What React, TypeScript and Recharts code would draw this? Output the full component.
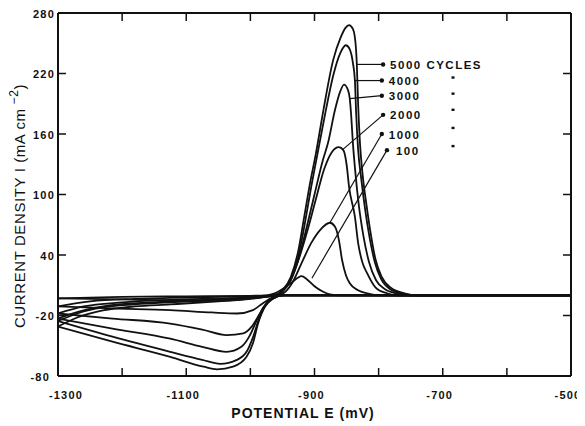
import React from 'react';
import { LineChart, Line, XAxis, YAxis, ReferenceLine, ReferenceDot, Label } from 'recharts';

const FONT = '"Liberation Sans", Arial, Helvetica, sans-serif';
const INK = '#111';

const xTicks = [-1300, -1200, -1100, -1000, -900, -800, -700, -600, -500];
const yTicks = [-80, -20, 40, 100, 160, 220, 280];

// anodic (forward) sweeps: [potential mV, current density mA cm-2]
const anodic5000: [number, number][] = [[-1300,-31],[-1270,-22],[-1230,-15],[-1180,-11],[-1125,-9],[-1050,-6],[-1000,-3.5],[-975,-1.5],[-962,0],[-950,5],[-937,18],[-925,45],[-916,78],[-907,111],[-898,140],[-886,184],[-871,233],[-859,256],[-852,265],[-846,268],[-840,264],[-836,250],[-834,229],[-832,190],[-829,150],[-825,120],[-819,90],[-812,60],[-805,36],[-795,18],[-780,7],[-760,2],[-740,0],[-500,0]];
const anodic4000: [number, number][] = [[-1300,-25.5],[-1270,-18],[-1230,-12],[-1180,-9],[-1125,-7],[-1050,-5],[-1000,-3],[-975,-1.2],[-962,0],[-950,4],[-937,16],[-924,42],[-914,75],[-905,108],[-896,138],[-884,178],[-870,220],[-860,240],[-851,248],[-845,244],[-840,230],[-837,213],[-835,180],[-832,145],[-827,115],[-821,85],[-814,57],[-806,33],[-796,16],[-782,6],[-762,1.5],[-742,0],[-500,0]];
const anodic3000: [number, number][] = [[-1300,-23],[-1260,-15],[-1220,-10],[-1125,-6],[-1050,-4],[-1000,-2.5],[-975,-1],[-962,0],[-950,4],[-937,15],[-924,38],[-912,68],[-900,100],[-887,134],[-879,151],[-868,184],[-860,202],[-854,209],[-848,204],[-845,195],[-843,180],[-840,150],[-836,120],[-831,90],[-824,60],[-815,33],[-804,15],[-790,6],[-770,1.5],[-750,0],[-500,0]];
const anodic2000: [number, number][] = [[-1300,-18],[-1260,-11],[-1200,-7],[-1125,-4.5],[-1050,-3],[-1000,-2],[-975,-0.8],[-962,0],[-950,4],[-937,15],[-925,35],[-912,62],[-898,95],[-885,125],[-873,142],[-862,147],[-855,144],[-850,130],[-846,107],[-837,78],[-832,52],[-825,32],[-818,22],[-805,8],[-787,2],[-770,0],[-500,0]];
const anodic1000: [number, number][] = [[-1300,-11],[-1250,-6],[-1180,-3.5],[-1125,-2.5],[-1050,-1.5],[-1000,-1],[-975,-0.4],[-962,0],[-949,2],[-935,12],[-918,35],[-905,52],[-891,65],[-876,72],[-868,68],[-862,55],[-857,35],[-851,20],[-845,12],[-832,5],[-818,2],[-798,0],[-500,0]];
const anodic100: [number, number][] = [[-1300,-3],[-1200,-1.5],[-1100,-1],[-1000,-0.5],[-975,0],[-962,2],[-948,7],[-935,13],[-926,17.5],[-920,19],[-912,16],[-900,9],[-888,4],[-876,1],[-860,0],[-500,0]];

// cathodic (return) sweeps, listed by ascending potential
const cathodic5000: [number, number][] = [[-1300,-31],[-1215,-46],[-1125,-61],[-1073,-70.8],[-1052,-73.4],[-1027,-70.8],[-1006,-61],[-996,-47.6],[-988,-28],[-977,-11],[-964,-3],[-950,0],[-500,0]];
const cathodic4000: [number, number][] = [[-1300,-25.5],[-1215,-41],[-1125,-56],[-1075,-64],[-1047,-68],[-1021,-64],[-1005,-55],[-995,-40],[-987,-24],[-977,-10],[-964,-3],[-950,0],[-500,0]];
const cathodic3000: [number, number][] = [[-1300,-23],[-1215,-33],[-1125,-43],[-1075,-51],[-1037,-56],[-1014,-51],[-1001,-40],[-991,-26],[-980,-12],[-967,-3.5],[-950,0],[-500,0]];
const cathodic2000: [number, number][] = [[-1300,-18],[-1215,-23],[-1125,-28],[-1075,-34],[-1037,-39.4],[-1011,-37.7],[-998,-31],[-985,-18],[-972,-7],[-958,-1],[-945,0],[-500,0]];
const cathodic1000: [number, number][] = [[-1300,-11],[-1215,-13],[-1125,-14.6],[-1060,-17],[-1021,-18],[-996,-14.6],[-980,-7.6],[-965,-2],[-950,0],[-500,0]];
const cathodic100: [number, number][] = [[-1300,-3],[-1200,-4],[-1100,-5],[-1040,-5],[-1000,-3],[-975,-1],[-960,0],[-500,0]];

// annotations
const labelTexts = ['5000 CYCLES', '4000', '3000', '2000', '1000', '100'];
const leaderStartE = [-834, -837, -845, -857, -876, -904];
const leaderStartI = [229, 213, 195, 144, 72, 17];
const leaderEndE = [-793, -795, -795, -793, -795, -787];
const leaderEndI = [229, 213, 198, 179, 160, 144];
const dittoE = -684;
const dittoI = [216, 200, 184, 166, 148];

const toPts = (arr: [number, number][]) => arr.map(([E, I]) => ({ E, I }));

const branches = [
  anodic5000, anodic4000, anodic3000, anodic2000, anodic1000, anodic100,
  cathodic5000, cathodic4000, cathodic3000, cathodic2000, cathodic1000, cathodic100,
].map(toPts);

function XTick(props: any) {
  const { x, y, payload } = props;
  const v = payload.value;
  if ((v + 1300) % 200 !== 0) return null;
  const dx = v === -1300 ? 8 : -3;
  return (
    <text x={x + dx} y={y + 31} textAnchor="middle" fontFamily={FONT} fontSize={11} fontWeight={700} letterSpacing={1.2} fill={INK}>
      {v}
    </text>
  );
}

function YTick(props: any) {
  const { x, y, payload } = props;
  const v = payload.value;
  const dx = v === -80 ? -16 : -11;
  return (
    <text x={x + dx} y={y + 4.5} textAnchor="end" fontFamily={FONT} fontSize={11} fontWeight={700} letterSpacing={1.2} fill={INK}>
      {v}
    </text>
  );
}

const blank = () => '';

export default function App() {
  return (
    <LineChart width={577} height={418} margin={{ top: 0, right: 8, bottom: 0, left: 10 }}>
      <XAxis
        xAxisId="b"
        dataKey="E"
        type="number"
        domain={[-1300, -500]}
        allowDataOverflow
        ticks={xTicks}
        interval={0}
        height={50}
        tickSize={-8}
        tickMargin={0}
        axisLine={{ stroke: INK, strokeWidth: 2 }}
        tickLine={{ stroke: INK, strokeWidth: 1.5 }}
        tick={<XTick />}
      >
        <Label
          content={() => (
            <text x={295} y={410} textAnchor="middle" fontFamily={FONT} fontSize={14} fontWeight={700} letterSpacing={1} fill={INK}>
              POTENTIAL E (mV)
            </text>
          )}
        />
      </XAxis>
      <XAxis
        xAxisId="t"
        orientation="top"
        dataKey="E"
        type="number"
        domain={[-1300, -500]}
        allowDataOverflow
        ticks={xTicks}
        interval={0}
        height={5}
        tickSize={-8}
        tickMargin={0}
        axisLine={{ stroke: INK, strokeWidth: 2 }}
        tickLine={{ stroke: INK, strokeWidth: 1.5 }}
        tickFormatter={blank}
      />
      <YAxis
        yAxisId="l"
        type="number"
        domain={[-80, 280]}
        allowDataOverflow
        ticks={yTicks}
        interval={0}
        width={40}
        tickSize={-8}
        tickMargin={0}
        axisLine={{ stroke: INK, strokeWidth: 2 }}
        tickLine={{ stroke: INK, strokeWidth: 1.5 }}
        tick={<YTick />}
      >
        <Label
          content={() => (
            <text transform="translate(17,198) rotate(-90)" textAnchor="middle" fontFamily={FONT} fontSize={15} fill={INK} letterSpacing={0.6}>
              CURRENT DENSITY I (mA cm
              <tspan dx={4} dy={-7} fontSize={12}>−2</tspan>
              <tspan dy={7}>)</tspan>
            </text>
          )}
        />
      </YAxis>
      <YAxis
        yAxisId="r"
        orientation="right"
        type="number"
        domain={[-80, 280]}
        allowDataOverflow
        ticks={yTicks}
        interval={0}
        width={6}
        tickSize={-8}
        tickMargin={0}
        axisLine={{ stroke: INK, strokeWidth: 2 }}
        tickLine={{ stroke: INK, strokeWidth: 1.5 }}
        tickFormatter={blank}
      />

      {branches.map((d, i) => (
        <Line
          key={'b' + i}
          data={d}
          dataKey="I"
          xAxisId="b"
          yAxisId="l"
          type="monotone"
          stroke={INK}
          strokeWidth={1.8}
          dot={false}
          activeDot={false}
          isAnimationActive={false}
        />
      ))}

      {labelTexts.map((t, i) => (
        <ReferenceLine
          key={'ll' + i}
          xAxisId="b"
          yAxisId="l"
          segment={[
            { x: leaderStartE[i], y: leaderStartI[i] },
            { x: leaderEndE[i], y: leaderEndI[i] },
          ]}
          stroke={INK}
          strokeWidth={1.2}
        />
      ))}

      {labelTexts.map((t, i) => (
        <ReferenceDot
          key={'ld' + i}
          xAxisId="b"
          yAxisId="l"
          x={leaderEndE[i]}
          y={leaderEndI[i]}
          r={2}
          shape={(p: any) => (
            <g>
              <circle cx={p.cx} cy={p.cy} r={2.2} fill={INK} />
              <text
                x={p.cx + (t === '100' ? 9 : 7)}
                y={p.cy + 4.5}
                fontFamily={FONT}
                fontSize={11.5}
                fontWeight={700}
                letterSpacing={1.5}
                fill={INK}
              >
                {t}
              </text>
            </g>
          )}
        />
      ))}

      {dittoI.map((v, i) => (
        <ReferenceDot
          key={'dt' + i}
          xAxisId="b"
          yAxisId="l"
          x={dittoE}
          y={v}
          r={1.5}
          shape={(p: any) => <rect x={p.cx - 1.5} y={p.cy - 1.2} width={3} height={2.4} fill={INK} />}
        />
      ))}
    </LineChart>
  );
}
